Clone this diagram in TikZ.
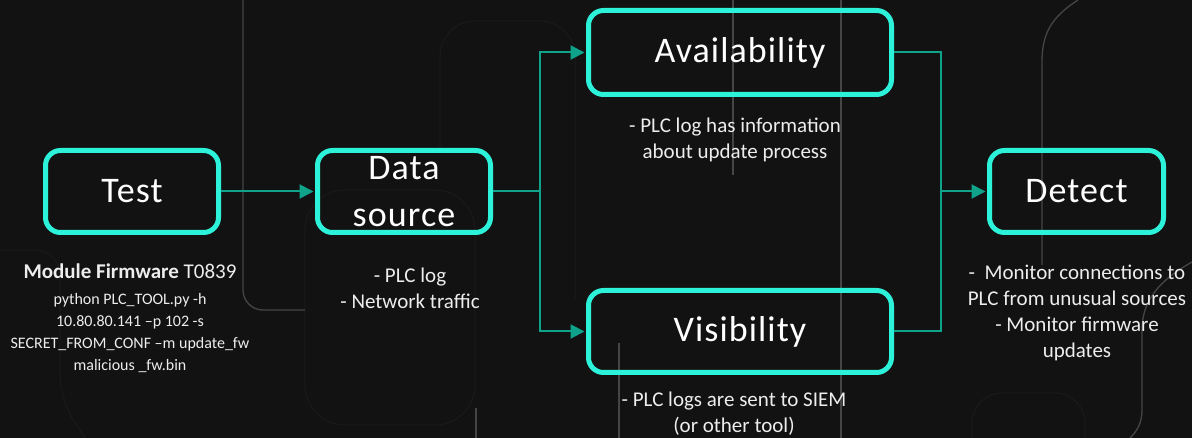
\documentclass[tikz,border=0pt]{standalone}
\usepackage{fontspec}
\setmainfont{Carlito}
\newfontfamily\titlefont[LetterSpace=3]{Carlito}
\usetikzlibrary{arrows.meta}
\definecolor{bgcol}{HTML}{121212}
\definecolor{boxcol}{HTML}{2CF2D9}
\definecolor{linkcol}{HTML}{0FA38C}
\definecolor{tracecol}{HTML}{454545}
\definecolor{ghostcol}{HTML}{191919}
\definecolor{notecol}{HTML}{EDEDED}
\begin{document}
\begin{tikzpicture}[x=1pt,y=-1pt,
  stage/.style={draw=boxcol, line width=5pt, rounded corners=15pt, text=white,
    font=\titlefont\fontsize{36}{47}\selectfont, align=center, inner sep=0pt},
  notes/.style={text=notecol, font=\fontsize{21}{26}\selectfont, align=center, inner sep=0pt},
  flow/.style={draw=linkcol, line width=2pt},
  arrowed/.style={flow, -{Triangle[length=14pt,width=14pt]}, shorten >=1.5pt},
  trace/.style={draw=tracecol, line width=1.3pt},
  ghost/.style={draw=ghostcol, line width=1.2pt}]

% canvas
\fill[bgcol] (0,0) rectangle (1192,438);
\useasboundingbox (0,0) rectangle (1192,438);

% decorative circuit traces in the background
\draw[ghost, rounded corners=40pt] (305,300) -- (305,425) -- (475,425) -- (475,190) -- (305,190) -- (305,300);
\draw[ghost, rounded corners=35pt] (440,150) -- (440,21) -- (575,21) -- (575,300);
\draw[ghost, rounded corners=30pt] (972,438) -- (972,393) -- (1085,393) -- (1085,438);
\draw[ghost, rounded corners=25pt] (0,250) -- (60,250) -- (60,400) -- (85,438);
\draw[trace, rounded corners=20pt] (243,0) -- (243,310) -- (305,310);
\draw[trace] (733,0) -- (733,175);
\draw[trace] (841,0) -- (841,438);
\draw[trace] (619,343) -- (619,438);
\draw[trace] (476,408) -- (476,438);
\draw[trace] (1078,0) .. controls (1050,18) and (1042,35) .. (1042,62) -- (1042,265);
\draw[trace] (1192,262) .. controls (1160,280) and (1142,300) .. (1142,330) -- (1142,410)
  .. controls (1142,424) and (1136,432) .. (1130,438);

% stages
\node[stage, minimum width=173pt, minimum height=82pt] (test) at (132,191.5) {Test};
\node[stage, minimum width=173pt, minimum height=82pt] (src) at (404,191.5) {Data\\source};
\node[stage, minimum width=303pt, minimum height=84pt] (avail) at (740,52.5) {Availability};
\node[stage, minimum width=303pt, minimum height=82pt] (vis) at (740,331.5) {Visibility};
\node[stage, minimum width=174pt, minimum height=82pt] (det) at (1076.5,191.5) {Detect};

% notes under the stages
\node[notes, font=\fontsize{16}{22}\selectfont] (testnote) at (130,318)
  {{\fontsize{21}{22}\selectfont\textbf{Module Firmware} T0839}\\[4pt]
   python PLC\_TOOL.py -h\\
   10.80.80.141 –p 102 -s\\
   SECRET\_FROM\_CONF –m update\_fw\\
   malicious \_fw.bin};
\node[notes] (srcnote) at (410,288) {- PLC log\\- Network traffic};
\node[notes] (availnote) at (735,140) {- PLC log has information\\about update process};
\node[notes] (visnote) at (734,414) {- PLC logs are sent to SIEM\\(or other tool)};
\node[notes] (detnote) at (1077,313)
  {-\ \ Monitor connections to\\PLC from unusual sources\\- Monitor firmware\\updates};

% junctions
\coordinate (split) at (540,191.5);
\coordinate (merge) at (941,191.5);

% connectors
\draw[arrowed] (test.east) -- (src.west);
\draw[flow] (src.east) -- (split);
\draw[arrowed] (split) |- (avail.west);
\draw[arrowed] (split) |- (vis.west);
\draw[flow] (avail.east) -| (merge);
\draw[flow] (vis.east) -| (merge);
\draw[arrowed] (merge) -- (det.west);
\end{tikzpicture}
\end{document}
